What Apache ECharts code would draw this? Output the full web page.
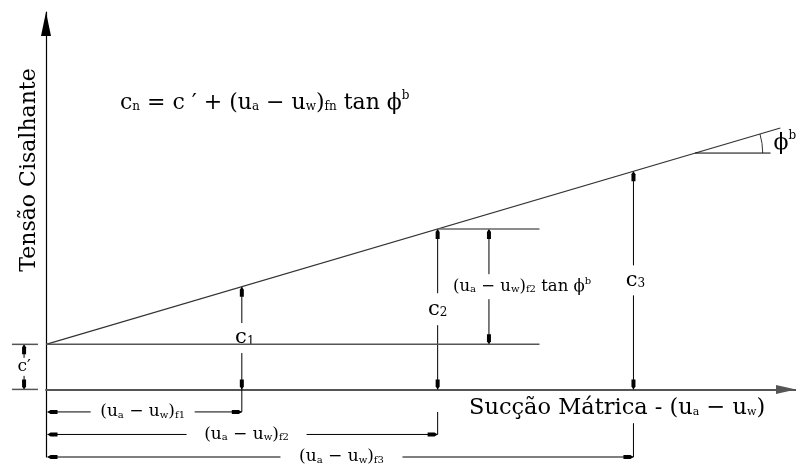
<!DOCTYPE html>
<html>
<head>
<meta charset="utf-8">
<script src="https://cdn.jsdelivr.net/npm/echarts@6/dist/echarts.min.js"></script>
<style>
  html, body { margin: 0; padding: 0; background: #fff; }
  #chart { width: 796px; height: 465px; }
</style>
</head>
<body>
<div id="chart"></div>
<script>
// Axis extents: matric suction on x, shear strength on y
const suctionRange = [0, 38.3];
const shearRange = [-3, 16.75];

// Effective cohesion c' and the total cohesion reached at three suction levels
const effectiveCohesion = 2;
const suctionLevels = [10, 20, 30];
const totalCohesion = [4.56, 7.12, 9.68];
const levelNames = ['1', '2', '3'];

// Failure envelope end points
const envelopeSuction = [0, 37.5];
const envelopeShear = [2, 11.6];

// Where the horizontal reference lines stop
const referenceEnd = 25.2;

// Vertex and end of the horizontal leg of the angle marker
const angleVertex = [33.15, 10.49];
const angleLegEnd = 37.0;

// Rows of the suction dimension lines under the axis
const dimensionRows = [-1, -2, -3];

const FONT = '"DejaVu Serif", "Liberation Serif", serif';
const INK = '#000';

// Rich-text styles: m = main text, s = subscript, p = superscript
function richStyles(main, small) {
  const drop = Math.round(main * 0.34);
  return {
    m: { fontSize: main, fontFamily: FONT, color: INK, lineHeight: main + 4 },
    s: { fontSize: small, fontFamily: FONT, color: INK, lineHeight: small, verticalAlign: 'middle', padding: [drop, 0, 0, 0] },
    p: { fontSize: small, fontFamily: FONT, color: INK, lineHeight: small, verticalAlign: 'top' }
  };
}

// Filled, slightly pointed arrow head with its tip at `tip`, pointing along `dir`
function arrowHead(tip, dir) {
  const len = 10, half = 2;
  const dx = dir[0], dy = dir[1];
  const px = -dy, py = dx;
  const nx = tip[0] - dx * 3, ny = tip[1] - dy * 3;
  const bx = tip[0] - dx * len, by = tip[1] - dy * len;
  return {
    type: 'polygon',
    shape: { points: [
      [tip[0], tip[1]],
      [nx + px * half, ny + py * half],
      [bx + px * half, by + py * half],
      [bx - px * half, by - py * half],
      [nx - px * half, ny - py * half]
    ] },
    style: { fill: INK }
  };
}

function seg(a, b, color, width) {
  return {
    type: 'line',
    shape: { x1: a[0], y1: a[1], x2: b[0], y2: b[1] },
    style: { stroke: color || INK, lineWidth: width || 1 }
  };
}

// Vertical dimension lines: [suction, lower shear, upper shear]
const verticalDims = [
  [suctionLevels[0], 0, totalCohesion[0]],
  [suctionLevels[1], 0, totalCohesion[1]],
  [suctionLevels[2], 0, totalCohesion[2]],
  [22.62, effectiveCohesion, totalCohesion[1]],
  [-1.12, 0, effectiveCohesion]
];
const verticalLabels = [
  { text: '{m|c}{s|' + levelNames[0] + '}', dx: 3, gap: 15, align: 'center', main: 21, small: 12 },
  { text: '{m|c}{s|' + levelNames[1] + '}', dx: 0, gap: 16, align: 'center', main: 21, small: 12 },
  { text: '{m|c}{s|' + levelNames[2] + '}', dx: 2, gap: 15, align: 'center', main: 21, small: 12 },
  { text: '{m|(u}{s|a}{m| − u}{s|w}{m|)}{s|f2}{m| tan ϕ}{p|b}', dx: -36, gap: 12.5, align: 'left', main: 16.5, small: 10 },
  { text: "{m|c′}", dx: 0, gap: 9, align: 'center', main: 17, small: 10 }
];

// Horizontal dimension lines: [start suction, end suction, row]
const horizontalDims = suctionLevels.map((s, i) => [0, s, dimensionRows[i]]);
const horizontalLabels = [
  { text: '{m|(u}{s|a}{m| − u}{s|w}{m|)}{s|f1}', dx: -2, gap: 52 },
  { text: '{m|(u}{s|a}{m| − u}{s|w}{m|)}{s|f2}', dx: 4, gap: 60 },
  { text: '{m|(u}{s|a}{m| − u}{s|w}{m|)}{s|f3}', dx: 1, gap: 61 }
];
// Extension lines from the axis (or just under it) down to each row
const extensionTops = [0, -1, -1.5];

const chart = echarts.init(document.getElementById('chart'));

chart.setOption({
  animation: false,
  backgroundColor: '#fff',
  grid: { left: 46, right: 0, top: 12, bottom: 8 },
  xAxis: {
    type: 'value',
    min: suctionRange[0],
    max: suctionRange[1],
    axisLine: {
      show: true, onZero: true,
      symbol: ['none', 'triangle'], symbolSize: [9, 20], symbolOffset: [0, -10],
      lineStyle: { color: '#555', width: 2 }
    },
    axisTick: { show: false },
    axisLabel: { show: false },
    splitLine: { show: false }
  },
  yAxis: {
    type: 'value',
    min: shearRange[0],
    max: shearRange[1],
    axisLine: {
      show: true, onZero: false,
      symbol: ['none', 'triangle'], symbolSize: [10, 24], symbolOffset: [0, -12],
      lineStyle: { color: INK, width: 1.2 }
    },
    axisTick: { show: false },
    axisLabel: { show: false },
    splitLine: { show: false }
  },
  graphic: [
    {
      type: 'text', x: 29, y: 170, rotation: Math.PI / 2,
      style: { text: 'Tensão Cisalhante', font: '22px ' + FONT, fill: INK, align: 'center', verticalAlign: 'middle' }
    },
    {
      type: 'text', x: 120, y: 103,
      style: {
        text: '{m|c}{s|n}{m| = c ′ + (u}{s|a}{m| − u}{s|w}{m|)}{s|fn}{m| tan ϕ}{p|b}',
        rich: richStyles(22, 12), align: 'left', verticalAlign: 'middle'
      }
    },
    {
      type: 'text', x: 469, y: 408,
      style: {
        text: '{m|Sucção Mátrica - (u}{s|a}{m| − u}{s|w}{m|)}',
        rich: richStyles(22.5, 11), align: 'left', verticalAlign: 'middle'
      }
    }
  ],
  series: [
    {
      name: 'envelope', type: 'line', symbol: 'none', silent: true,
      data: envelopeSuction.map((s, i) => [s, envelopeShear[i]]),
      lineStyle: { color: '#333', width: 1.2 }
    },
    {
      name: 'c-prime line', type: 'line', symbol: 'none', silent: true,
      data: [[0, effectiveCohesion], [referenceEnd, effectiveCohesion]],
      lineStyle: { color: '#555', width: 1.5 }
    },
    {
      name: 'c2 line', type: 'line', symbol: 'none', silent: true,
      data: [[suctionLevels[1], totalCohesion[1]], [referenceEnd, totalCohesion[1]]],
      lineStyle: { color: '#666', width: 1.5 }
    },
    {
      name: 'angle leg', type: 'line', symbol: 'none', silent: true,
      data: [angleVertex, [angleLegEnd, angleVertex[1]]],
      lineStyle: { color: INK, width: 1 }
    },
    {
      name: 'vertical dimensions', type: 'custom', silent: true,
      data: verticalDims,
      renderItem(params, api) {
        const lab = verticalLabels[params.dataIndex];
        const x = api.value(0);
        const pb = api.coord([x, api.value(1)]);
        const pt = api.coord([x, api.value(2)]);
        const mid = (pb[1] + pt[1]) / 2;
        const children = [
          seg(pt, [pt[0], mid - lab.gap]),
          seg([pb[0], mid + lab.gap], pb),
          arrowHead(pt, [0, -1]),
          arrowHead(pb, [0, 1]),
          {
            type: 'text',
            style: {
              text: lab.text, rich: richStyles(lab.main, lab.small),
              x: pt[0] + lab.dx, y: mid, align: lab.align, verticalAlign: 'middle'
            }
          }
        ];
        if (params.dataIndex === 4) {
          // extension ticks for c'
          const a = api.coord([-1.74, 0]), b = api.coord([-0.41, 0]);
          const c = api.coord([-1.74, effectiveCohesion]), d = api.coord([-0.41, effectiveCohesion]);
          children.push(seg(a, b, '#555', 1.5), seg(c, d, '#555', 1.5));
        }
        return { type: 'group', children };
      }
    },
    {
      name: 'suction dimensions', type: 'custom', silent: true,
      data: horizontalDims,
      renderItem(params, api) {
        const i = params.dataIndex;
        const lab = horizontalLabels[i];
        const row = api.value(2);
        const p0 = api.coord([api.value(0), row]);
        const p1 = api.coord([api.value(1), row]);
        p0[0] += 1.5;
        const midX = (p0[0] + p1[0]) / 2 + lab.dx;
        const top = api.coord([api.value(1), extensionTops[i]]);
        return {
          type: 'group',
          children: [
            seg(p0, [midX - lab.gap, p0[1]]),
            seg([midX + lab.gap, p1[1]], p1),
            seg(top, p1),
            arrowHead(p0, [-1, 0]),
            arrowHead(p1, [1, 0]),
            {
              type: 'text',
              style: {
                text: lab.text, rich: richStyles(17, 10),
                x: midX, y: p0[1], align: 'center', verticalAlign: 'middle'
              }
            }
          ]
        };
      }
    },
    {
      name: 'angle marker', type: 'custom', silent: true,
      data: [[angleVertex[0], angleVertex[1], 36.6]],
      renderItem(params, api) {
        const v = api.coord([api.value(0), api.value(1)]);
        const e0 = api.coord([envelopeSuction[0], envelopeShear[0]]);
        const e1 = api.coord([envelopeSuction[1], envelopeShear[1]]);
        const ang = Math.atan2(e0[1] - e1[1], e1[0] - e0[0]);
        const r = api.coord([api.value(2), api.value(1)])[0] - v[0];
        const endLeg = api.coord([angleLegEnd, api.value(1)]);
        return {
          type: 'group',
          children: [
            {
              type: 'arc',
              shape: { cx: v[0], cy: v[1], r, startAngle: -ang, endAngle: 0, clockwise: true },
              style: { stroke: '#333', lineWidth: 1, fill: null }
            },
            {
              type: 'text',
              style: {
                text: '{m|ϕ}{p|b}', rich: richStyles(22, 12),
                x: endLeg[0] + 3, y: v[1] - 10, align: 'left', verticalAlign: 'middle'
              }
            }
          ]
        };
      }
    }
  ]
});
</script>
</body>
</html>
